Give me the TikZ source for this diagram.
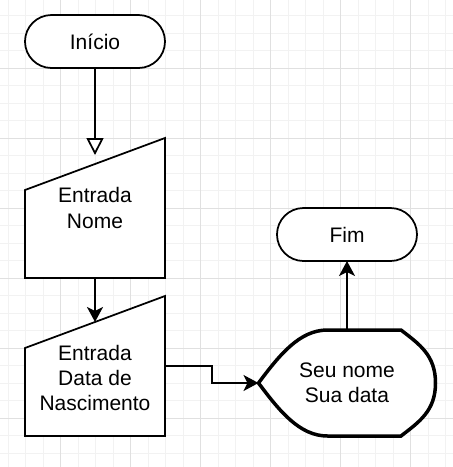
\documentclass[tikz,border=0pt]{standalone}
\usepackage{fontspec}
\setmainfont{Liberation Sans}
\usetikzlibrary{arrows.meta,calc}
\definecolor{gridminor}{RGB}{242,242,242}
\definecolor{gridmajor}{RGB}{224,224,224}
\begin{document}
\begin{tikzpicture}[x=1pt,y=-1pt,
  outline/.style={draw=black,line width=1.75pt,fill=white},
  term/.style={outline,rounded corners=26.5pt,minimum width=140pt,minimum height=53pt,
    inner sep=0pt,outer sep=0pt,font=\fontsize{21}{25.3}\selectfont,text height=15pt,text depth=0pt},
  iobox/.style={inner sep=0pt,outer sep=0pt,minimum width=140pt,minimum height=140pt},
  dispbox/.style={inner sep=0pt,outer sep=0pt,minimum width=177pt,minimum height=106pt},
  lbl/.style={font=\fontsize{21}{25.3}\selectfont,align=center,inner sep=0pt},
  conn/.style={draw=black,line width=1.75pt},
  fillhead/.style={-{Stealth[length=15pt,width=16pt,inset=4pt]}},
  openhead/.style={-{Triangle[open,length=17pt,width=17pt,fill=white]}},
  minorline/.style={draw=gridminor,line width=1pt},
  majorline/.style={draw=gridmajor,line width=1pt}]
\useasboundingbox[fill=white] (0,0) rectangle (453,467);
% grid
\foreach \i in {0,...,25} {
  \draw[minorline] ({8.2+17.5*\i},0) -- ({8.2+17.5*\i},467);
  \draw[minorline] (0,{15.8+17.5*\i}) -- (453,{15.8+17.5*\i});
}
\foreach \i in {0,...,5} {
  \draw[majorline] ({60.7+70*\i},0) -- ({60.7+70*\i},467);
  \draw[majorline] (0,{68.3+70*\i}) -- (453,{68.3+70*\i});
}
% nodes
\node[term] (start) at (95,41.5) {Início};
\node[term] (end) at (347,234.5) {Fim};
\node[iobox] (in1) at (95,208) {};
\node[iobox] (in2) at (95,366) {};
\node[dispbox] (disp) at (347,383) {};
\coordinate (in1top) at (95,155);
\coordinate (in2top) at (95,322);
% connectors
\draw[conn,openhead] (start.south) -- (in1top);
\draw[conn,fillhead] (in1.south) -- (in2top);
\draw[conn,fillhead] (in2.east) -- ++(47,0) |- (disp.west);
\draw[conn,fillhead] (disp.north) -- (end.south);
% shapes
\draw[outline] ([yshift=-52pt]in1.north west) -- (in1.north east) -- (in1.south east) -- (in1.south west) -- cycle;
\draw[outline] ([yshift=-52pt]in2.north west) -- (in2.north east) -- (in2.south east) -- (in2.south west) -- cycle;
\draw[outline,line width=3.5pt]
  (disp.west) .. controls +(21,-28) and +(-28,0) .. ([xshift=69pt]disp.north west)
  -- ([xshift=-34.5pt]disp.north east)
  .. controls +(18,14) and +(0,-28) .. (disp.east)
  .. controls +(0,28) and +(18,-14) .. ([xshift=-34.5pt]disp.south east)
  -- ([xshift=69pt]disp.south west)
  .. controls +(-28,0) and +(21,28) .. (disp.west) -- cycle;
% labels
\node[lbl] (in1t) at (95,207.85) {Entrada\\Nome};
\node[lbl] (in2t) at (95,378.05) {Entrada\\Data de\\Nascimento};
\node[lbl] (dispt) at (347,382.85) {Seu nome\\Sua data};
\end{tikzpicture}
\end{document}
